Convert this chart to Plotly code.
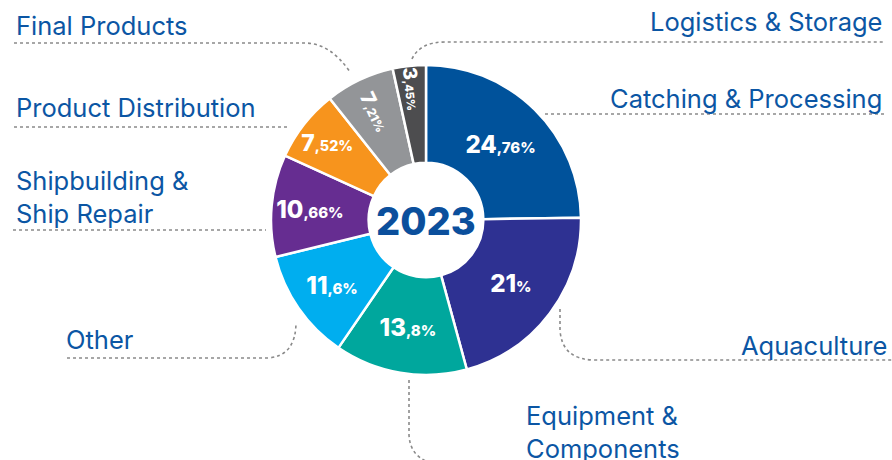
import plotly.graph_objects as go

W, H = 892, 460

# data, clockwise from 12 o'clock
segments = ["Catching & Processing", "Aquaculture", "Equipment & Components", "Other",
            "Shipbuilding & Ship Repair", "Product Distribution", "Final Products",
            "Logistics & Storage"]
shares = [24.76, 21.0, 13.8, 11.6, 10.66, 7.52, 7.21, 3.45]
colors = ["#00529B", "#2E3192", "#00A79D", "#00AEEF", "#662D91", "#F7941D", "#939598", "#4D4D4F"]
radial_labels = ["Final Products", "Logistics & Storage"]  # thin slices, text along the radius
year = "2023"

LABEL_BLUE = "#0B56A4"
DOT_GREY = "#8A8A8A"


def fmt_share(v, small_px=15):
    # big integer part, small decimal part, comma decimal separator
    whole = int(v)
    dec = f"{v:.2f}".split(".")[1].rstrip("0")
    small = f",{dec}%" if dec else "%"
    return f"{whole}<span style='font-size:{small_px}px'>{small}</span>"


def px_(x):
    return x / W


def py_(y):
    return 1 - y / H


domain = dict(x=[px_(426 - 155), px_(426 + 155)], y=[py_(375), py_(65)])
common = dict(labels=segments, values=shares, hole=0.37, sort=False,
              direction="clockwise", rotation=0, domain=domain, showlegend=False,
              textposition="inside", texttemplate="%{text}", textinfo="text")

# main ring, horizontal labels on the wide slices
fig = go.Figure(go.Pie(
    text=["" if s in radial_labels else fmt_share(v) for s, v in zip(segments, shares)],
    insidetextorientation="horizontal",
    textfont=dict(family="Inter, sans-serif", size=24, color="white", weight=800),
    marker=dict(colors=colors, line=dict(color="white", width=2.5)),
    hoverinfo="label+value",
    **common,
))
# transparent copy carrying the radial labels of the thin slices
fig.add_trace(go.Pie(
    text=[fmt_share(v, 12) if s in radial_labels else "" for s, v in zip(segments, shares)],
    insidetextorientation="radial",
    textfont=dict(family="Inter, sans-serif", size=20, color="white", weight=800),
    marker=dict(colors=["rgba(0,0,0,0)"] * len(shares), line=dict(width=0)),
    hoverinfo="skip",
    **common,
))

# outer labels: (text, x, y, anchor)
labels = [
    ("Final Products", 14, 25, "left"),
    ("Product Distribution", 14, 108, "left"),
    ("Shipbuilding &<br>Ship Repair", 14, 197, "left"),
    ("Other", 64, 339, "left"),
    ("Equipment &<br>Components", 524, 432, "left"),
    ("Aquaculture", 889, 345, "right"),
    ("Logistics & Storage", 884, 22, "right"),
    ("Catching & Processing", 884, 98, "right"),
]
for txt, x, y, anchor in labels:
    fig.add_annotation(
        text=txt, x=px_(x), y=py_(y), xref="paper", yref="paper",
        xanchor=anchor, yanchor="middle", align=anchor, showarrow=False,
        font=dict(family="Inter, sans-serif", size=25.5, color=LABEL_BLUE),
    )

fig.add_annotation(
    text=year, x=px_(426), y=py_(221), xref="paper", yref="paper",
    showarrow=False, font=dict(family="Inter, sans-serif", size=38, color="#0B4F9C", weight=800),
)


def path(points):
    # points: list of (cmd, x, y, ...) in pixels
    out = []
    for cmd, *vals in points:
        coords = []
        for i in range(0, len(vals), 2):
            coords.append(f"{px_(vals[i]):.5f},{py_(vals[i + 1]):.5f}")
        out.append(cmd + " " + " ".join(coords))
    return " ".join(out)


leaders = [
    [("M", 14, 43), ("L", 305, 43), ("Q", 330, 43, 350, 72)],
    [("M", 14, 127), ("L", 287, 127)],
    [("M", 13, 230), ("L", 266, 230)],
    [("M", 67, 358), ("L", 268, 358), ("Q", 296, 356, 296, 322)],
    [("M", 409, 380), ("L", 409, 435), ("Q", 410, 455, 428, 462)],
    [("M", 560, 309), ("L", 560, 330), ("Q", 562, 360, 595, 360), ("L", 892, 360)],
    [("M", 412, 59), ("Q", 420, 42, 445, 42), ("L", 884, 42)],
    [("M", 545, 114), ("L", 884, 114)],
]
for pts in leaders:
    fig.add_shape(type="path", path=path(pts), xref="paper", yref="paper",
                  line=dict(color=DOT_GREY, width=1.6, dash="dot"))

fig.update_layout(
    width=W, height=H,
    margin=dict(l=0, r=0, t=0, b=0),
    paper_bgcolor="white", plot_bgcolor="white",
)

fig.write_html("out.html", config={"displayModeBar": False},
               post_script="document.body.style.margin='0';")
